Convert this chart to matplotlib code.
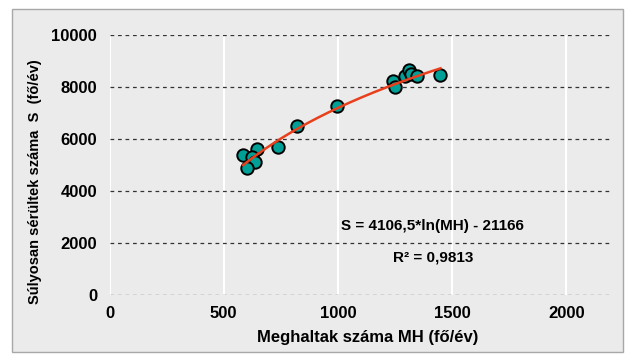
import matplotlib.pyplot as plt
from matplotlib.patches import Rectangle
import numpy as np

# measured points: deaths (MH) vs. seriously injured (S)
mh = [585, 644, 622, 636, 600, 738, 819, 996, 1241, 1252, 1293, 1311, 1319, 1344, 1449]
s = [5385, 5604, 5296, 5127, 4896, 5681, 6512, 7269, 8242, 8012, 8435, 8654, 8500, 8435, 8450]

# logarithmic trend as printed on the chart
coef_a = 4106.5
coef_b = -21166
r2_text = 'R² = 0,9813'
eq_text = 'S = 4106,5*ln(MH) - 21166'

xticks = [0, 500, 1000, 1500, 2000]
yticks = [0, 2000, 4000, 6000, 8000, 10000]

plt.rcParams['font.family'] = ['Liberation Sans', 'DejaVu Sans']
plt.rcParams['font.weight'] = 'bold'

fig = plt.figure(figsize=(6.26, 3.54), dpi=100)
fig.patch.set_facecolor('white')
# grey panel with a thin frame behind the chart
fig.patches.append(Rectangle((12 / 626, 2 / 354), 611 / 626, 343 / 354,
                             transform=fig.transFigure, facecolor='#ebebeb',
                             edgecolor='#a8a8a8', linewidth=1.0, zorder=-10))

ax = fig.add_axes([0.175, 0.1667, 0.799, 0.734])
ax.set_facecolor('#ebebeb')

ax.set_xlim(0, 2190)
ax.set_ylim(0, 10000)
ax.set_xticks(xticks)
ax.set_yticks(yticks)

for sp in ax.spines.values():
    sp.set_visible(False)

ax.xaxis.grid(True, color='white', linewidth=1.5, linestyle='-')
ax.yaxis.grid(True, color='#333333', linewidth=0.9, linestyle=(0, (3, 3)))
ax.set_axisbelow(True)
ax.tick_params(length=0, labelsize=12, pad=8)
ax.tick_params(axis='y', pad=9)

xs = np.linspace(min(mh), max(mh), 200)
ax.scatter(mh, s, s=80, facecolor='#00a096', edgecolor='black', linewidth=1.4, zorder=4)
ax.plot(xs, coef_a * np.log(xs) + coef_b, color='#e8401c', linewidth=1.8, zorder=5)

ax.text(1415, 2650, eq_text, ha='center', va='center', fontsize=11, fontweight='bold')
ax.text(1415, 1460, r2_text, ha='center', va='center', fontsize=11, fontweight='bold')

ax.set_xlabel('Meghaltak száma MH (fő/év)', fontsize=12, fontweight='bold')
ax.xaxis.set_label_coords((368 - 109.5) / 500.5, -(338 - 295) / 260)
ax.set_ylabel('Súlyosan sérültek száma  S  (fő/év)', fontsize=10.5, fontweight='bold')
ax.yaxis.set_label_coords((35 - 109.5) / 500.5, (295 - 182) / 260)
ax.yaxis.label.set_va('center')
ax.xaxis.label.set_va('center')

fig.savefig('out.png', dpi=100, facecolor=fig.get_facecolor())
